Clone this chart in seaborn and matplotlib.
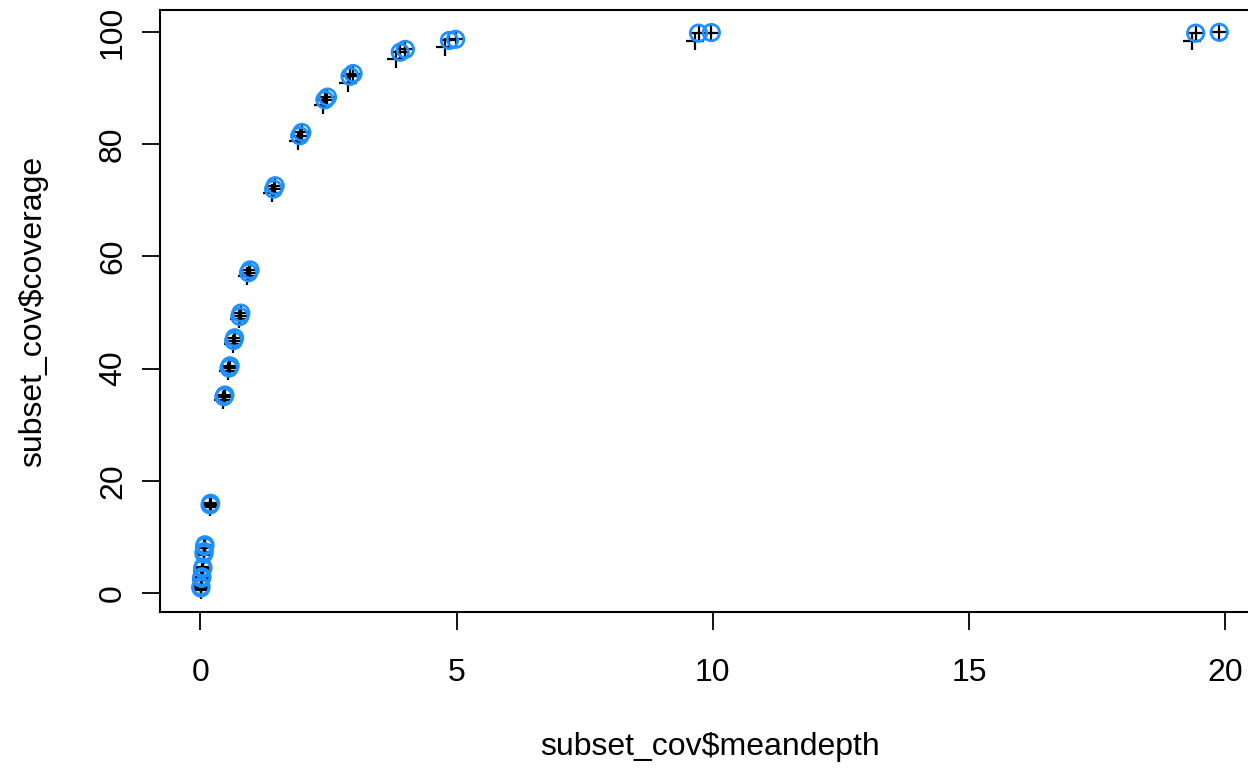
import matplotlib
matplotlib.use("Agg")
import matplotlib.pyplot as plt
import seaborn as sns
import pandas as pd

# Pooled subsample results (open blue circles)
circ_depth = [0.01, 0.012, 0.025, 0.03, 0.045, 0.05, 0.07, 0.075, 0.085, 0.09,
              0.19, 0.2, 0.46, 0.48, 0.56, 0.58, 0.65, 0.67, 0.77, 0.79,
              0.94, 0.97, 1.43, 1.46, 1.94, 1.98, 2.43, 2.48, 2.92, 2.98,
              3.90, 4.00, 4.86, 4.98, 9.72, 9.97, 19.42, 19.88]
circ_cov = [0.9, 1.2, 2.6, 2.9, 4.3, 4.6, 7.0, 7.4, 8.3, 8.6,
            15.7, 16.0, 35.0, 35.3, 40.1, 40.5, 45.0, 45.5, 49.3, 49.9,
            57.1, 57.6, 72.0, 72.6, 81.5, 82.1, 87.9, 88.4, 92.1, 92.6,
            96.4, 96.9, 98.5, 98.7, 99.8, 99.9, 99.8, 99.95]

# Individual replicate results (black plus signs)
rep_depth = [0.01, 0.012, 0.008, 0.025, 0.03, 0.022, 0.045, 0.05, 0.04,
             0.07, 0.075, 0.065, 0.085, 0.09, 0.08, 0.19, 0.2, 0.18,
             0.46, 0.48, 0.44, 0.56, 0.58, 0.54, 0.65, 0.67, 0.63,
             0.77, 0.79, 0.75, 0.94, 0.97, 0.92, 1.43, 1.46, 1.40,
             1.94, 1.98, 1.90, 2.43, 2.48, 2.39, 2.92, 2.98, 2.88,
             3.90, 4.00, 3.82, 4.86, 4.98, 4.78, 9.72, 9.97, 9.65,
             19.42, 19.88, 19.35]
rep_cov = [0.9, 1.2, 0.6, 2.6, 2.9, 2.3, 4.3, 4.6, 4.0,
           7.0, 7.4, 6.7, 8.3, 8.6, 8.0, 15.7, 16.0, 15.4,
           35.0, 35.3, 34.5, 40.1, 40.5, 39.6, 45.0, 45.5, 44.4,
           49.3, 49.9, 48.8, 57.1, 57.6, 56.5, 72.0, 72.6, 71.3,
           81.5, 82.1, 80.6, 87.9, 88.4, 87.0, 92.1, 92.6, 91.0,
           96.4, 96.9, 95.2, 98.5, 98.7, 97.4, 99.8, 99.9, 98.4,
           99.8, 99.95, 98.4]

x_ticks = [0, 5, 10, 15, 20]
y_ticks = [0, 20, 40, 60, 80, 100]

sns.set_theme(style="white")
plt.rcParams["font.family"] = ["Liberation Sans", "DejaVu Sans"]

W, H = 1248, 768
fig = plt.figure(figsize=(W / 100, H / 100), dpi=100)
left, right, top, bottom = 160, 1260, 10, 612
ax = fig.add_axes([left / W, 1 - bottom / H, (right - left) / W, (bottom - top) / H])

reps = pd.DataFrame({"meandepth": rep_depth, "coverage": rep_cov})
circs = pd.DataFrame({"meandepth": circ_depth, "coverage": circ_cov})

sns.scatterplot(data=reps, x="meandepth", y="coverage", ax=ax, marker="+",
                color="black", s=170, linewidth=1.6, zorder=2)
sns.scatterplot(data=circs, x="meandepth", y="coverage", ax=ax, marker="o",
                facecolor="none", edgecolor="#1E90FF", s=140, linewidth=2.0,
                zorder=3)

# R-style axis ranges: 4% padding around the data
xmin, xmax = min(circ_depth + rep_depth), max(circ_depth + rep_depth)
ymin, ymax = min(circ_cov + rep_cov), max(circ_cov + rep_cov)
xr, yr = xmax - xmin, ymax - ymin
ax.set_xlim(xmin - 0.04 * xr, xmax + 0.04 * xr)
ax.set_ylim(ymin - 0.04 * yr, ymax + 0.04 * yr)

ax.set_xticks(x_ticks)
ax.set_yticks(y_ticks)
ax.set_xticklabels([str(t) for t in x_ticks])
ax.set_yticklabels([str(t) for t in y_ticks], rotation=90, va="center")

for s in ax.spines.values():
    s.set_color("black")
    s.set_linewidth(1.5)
    s.set_visible(True)

ax.tick_params(axis="both", direction="out", length=13, width=1.3,
               color="black", labelsize=23, labelcolor="black",
               bottom=True, left=True)
ax.tick_params(axis="x", pad=20)
ax.tick_params(axis="y", pad=10)

ax.set_xlabel("subset_cov$meandepth", fontsize=23, color="black", labelpad=32)
ax.set_ylabel("subset_cov$coverage", fontsize=23, color="black", labelpad=36)
ax.grid(False)

fig.savefig("out.png", dpi=100)
